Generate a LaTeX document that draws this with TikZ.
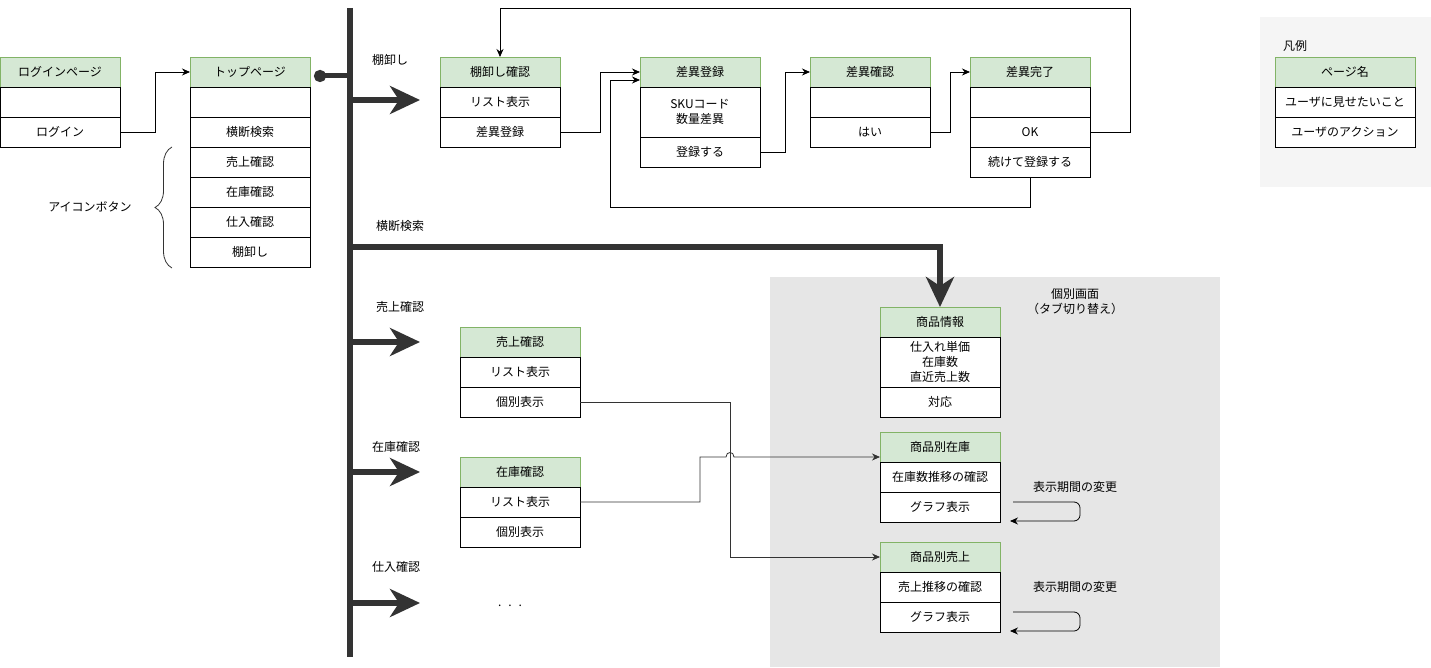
\documentclass[tikz,border=0pt]{standalone}
\usepackage{fontspec}
\setmainfont{Noto Sans CJK JP}
\usetikzlibrary{arrows.meta, positioning, decorations.pathreplacing}
\definecolor{hdrfill}{HTML}{D5E8D4}
\definecolor{hdrline}{HTML}{82B366}
\definecolor{darkline}{HTML}{333333}
\definecolor{groupfill}{HTML}{E6E6E6}
\definecolor{legendfill}{HTML}{F5F5F5}

\begin{document}
\begin{tikzpicture}[x=1pt, y=-1pt, font=\fontsize{12}{15}\selectfont]
		\tikzstyle{Head} = [rectangle, minimum width=120pt, minimum height=30pt, inner sep=0pt, outer sep=0pt, text centered, draw=hdrline, fill=hdrfill, line width=0.8pt]
		\tikzstyle{Row} = [rectangle, minimum width=120pt, minimum height=30pt, inner sep=0pt, outer sep=0pt, text centered, draw=black, fill=white, line width=0.8pt]
		\tikzstyle{TallRow} = [Row, minimum height=50pt, align=center]
		\tikzstyle{arrow} = [line width=0.8pt, draw=black, -{Stealth[length=8pt,width=7pt]}]
		\tikzstyle{grayarrow} = [arrow, draw=darkline]
		\tikzstyle{bus} = [line width=6pt, draw=darkline]
		\tikzstyle{busarrow} = [bus, -{Stealth[length=30pt,width=28pt,inset=9pt]}]
		\tikzstyle{Label} = [inner sep=0pt, align=center]

		\useasboundingbox (0,0) rectangle (1431,668);
		\fill[legendfill] (1260,17) rectangle (1431,187);
		\fill[groupfill] (770,277) rectangle (1220,667);

		% pages
		\node (lg) [Head] at (60,72) {ログインページ};
		\node (lg1) [Row, below = 0mm of lg] {};
		\node (lg2) [Row, below = 0mm of lg1] {ログイン};

		\node (tp) [Head] at (250,72) {トップページ};
		\node (tp1) [Row, below = 0mm of tp] {};
		\node (tp2) [Row, below = 0mm of tp1] {横断検索};
		\node (tp3) [Row, below = 0mm of tp2] {売上確認};
		\node (tp4) [Row, below = 0mm of tp3] {在庫確認};
		\node (tp5) [Row, below = 0mm of tp4] {仕入確認};
		\node (tp6) [Row, below = 0mm of tp5] {棚卸し};

		\node (ta) [Head] at (500,72) {棚卸し確認};
		\node (ta1) [Row, below = 0mm of ta] {リスト表示};
		\node (ta2) [Row, below = 0mm of ta1] {差異登録};

		\node (sa) [Head] at (700,72) {差異登録};
		\node (sa1) [TallRow, below = 0mm of sa] {SKUコード\\数量差異};
		\node (sa2) [Row, below = 0mm of sa1] {登録する};

		\node (sk) [Head] at (870,72) {差異確認};
		\node (sk1) [Row, below = 0mm of sk] {};
		\node (sk2) [Row, below = 0mm of sk1] {はい};

		\node (sr) [Head] at (1030,72) {差異完了};
		\node (sr1) [Row, below = 0mm of sr] {};
		\node (sr2) [Row, below = 0mm of sr1] {OK};
		\node (sr3) [Row, below = 0mm of sr2] {続けて登録する};

		\node (hl) [Label] at (1295,46) {凡例};
		\node (hn) [Head, minimum width=140pt] at (1345,72) {ページ名};
		\node (hn1) [Row, minimum width=140pt, below = 0mm of hn] {ユーザに見せたいこと};
		\node (hn2) [Row, minimum width=140pt, below = 0mm of hn1] {ユーザのアクション};

		\node (ua) [Head] at (520,342) {売上確認};
		\node (ua1) [Row, below = 0mm of ua] {リスト表示};
		\node (ua2) [Row, below = 0mm of ua1] {個別表示};

		\node (za) [Head] at (520,472) {在庫確認};
		\node (za1) [Row, below = 0mm of za] {リスト表示};
		\node (za2) [Row, below = 0mm of za1] {個別表示};

		\node (gl) [Label] at (1075,302) {個別画面\\（タブ切り替え）};
		\node (in) [Head] at (940,322) {商品情報};
		\node (in1) [TallRow, below = 0mm of in] {仕入れ単価\\在庫数\\直近売上数};
		\node (in2) [Row, below = 0mm of in1] {対応};

		\node (zk) [Head] at (940,447) {商品別在庫};
		\node (zk1) [Row, below = 0mm of zk] {在庫数推移の確認};
		\node (zk2) [Row, below = 0mm of zk1] {グラフ表示};

		\node (ub) [Head] at (940,557) {商品別売上};
		\node (ub1) [Row, below = 0mm of ub] {売上推移の確認};
		\node (ub2) [Row, below = 0mm of ub1] {グラフ表示};

		\node (dots) [Label] at (510,606) {.\hspace{7pt}.\hspace{7pt}.};
		\node (ib) [Label] at (90,207) {アイコンボタン};
		\node (pz) [Label] at (1075,487) {表示期間の変更};
		\node (pu) [Label] at (1075,587) {表示期間の変更};

		% bus
		\coordinate (busT) at (350,8);
		\coordinate (busB) at (350,657);
		\coordinate (busDot) at (350,76);
		\draw[bus] (busT) -- (busB);
		\draw[bus, line width=5pt, {Circle[length=12pt]}-] ([shift={(4pt,-4pt)}]tp.east) -- (busDot);
		\foreach \y/\lx/\ly/\t in {100/390/60/棚卸し, 342/400/307/売上確認, 472/396/447/在庫確認, 603/396/567/仕入確認}
		{
			\draw[busarrow] (350,\y) -- (420,\y);
			\node[Label] at (\lx,\ly) {\t};
		}
		\node (ks) [Label] at (400,226) {横断検索};
		\draw[busarrow] (350,247) -| (in.north);

		\draw[decorate, decoration={brace, amplitude=17pt}, line width=0.8pt, darkline] (172,268) -- (172,147);

		% flows
		\draw[arrow] (lg2.east) -- ++(35,0) |- (tp.west);
		\draw[arrow] (ta2.east) -- ++(40,0) |- (sa.west);
		\draw[arrow] (sa2.east) -- ++(25,0) |- (sk.west);
		\draw[arrow] (sk2.east) -- ++(20,0) |- (sr.west);
		\draw[arrow] (sr2.east) -- ++(40,0) -- ++(0,-124) -| (ta.north);
		\draw[arrow] (sr3.south) -- ++(0,30) -- (610,207) |- ([yshift=-8pt]sa.west);

		\draw[grayarrow] (ua2.east) -- ++(150,0) |- (ub.west);
		\draw[grayarrow] (za1.east) -- (700,502) -- (700,457) -- (726,457) .. controls (726,451) and (734,451) .. (734,457) -- ([yshift=-10pt]zk.west);

		\coordinate (zs) at (1013,502);
		\coordinate (us) at (1013,612);
		\draw[arrow, rounded corners=6pt] (zs) -- ++(67,0) -- ++(0,19) -- ++(-70,0);
		\draw[arrow, rounded corners=6pt] (us) -- ++(67,0) -- ++(0,19) -- ++(-70,0);
\end{tikzpicture}
\end{document}
